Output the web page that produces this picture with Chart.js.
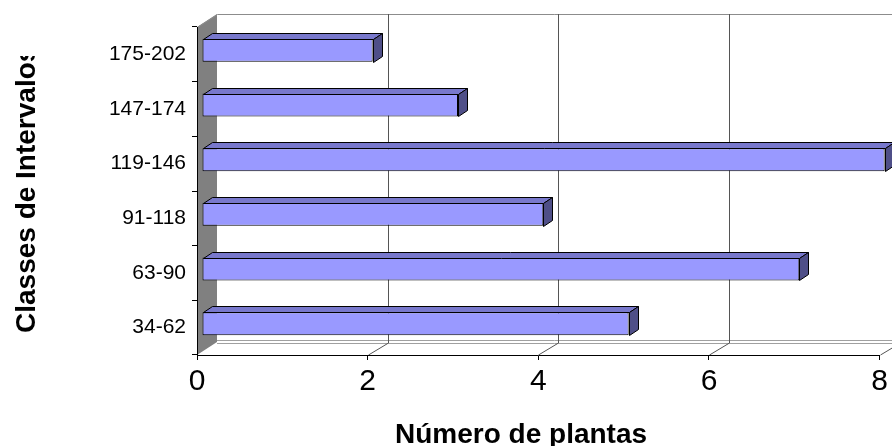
<!DOCTYPE html>
<html>
<head>
<meta charset="utf-8">
<script src="https://cdn.jsdelivr.net/npm/chart.js@4"></script>
<style>
  html, body { margin: 0; padding: 0; background: #ffffff; }
  #wrap { width: 892px; height: 446px; }
</style>
</head>
<body>
<div id="wrap"><canvas id="c" width="892" height="446"></canvas></div>
<script>
// Interval classes (top to bottom) and number of plants in each
const classes = ['175-202', '147-174', '119-146', '91-118', '63-90', '34-62'];
const plants = [2, 3, 8, 4, 7, 5];
const xTicks = [0, 2, 4, 6, 8];
const xTitle = 'Número de plantas';
const yTitle = 'Classes de Intervalos';

const FONT = 'Arial, "Liberation Sans", sans-serif';

// 3D geometry: depth of the walls and of the bar boxes
const WALL = { dx: 20, dy: -13 };
const BAR_SHIFT = { dx: 5, dy: -4 };
const BAR_DEPTH = { dx: 9, dy: -6 };

const walls = {
  id: 'walls',
  beforeDraw(chart) {
    const { ctx, chartArea: a, scales } = chart;
    const x = scales.x;
    ctx.save();
    // back wall
    ctx.fillStyle = '#ffffff';
    ctx.fillRect(a.left + WALL.dx, a.top + WALL.dy, chart.width - a.left - WALL.dx, a.bottom - a.top);
    // side wall
    ctx.fillStyle = '#808080';
    ctx.beginPath();
    ctx.moveTo(a.left, a.top);
    ctx.lineTo(a.left + WALL.dx, a.top + WALL.dy);
    ctx.lineTo(a.left + WALL.dx, a.bottom + WALL.dy);
    ctx.lineTo(a.left, a.bottom);
    ctx.closePath();
    ctx.fill();
    // wall outline
    ctx.strokeStyle = '#8c8c8c';
    ctx.lineWidth = 1;
    ctx.beginPath();
    ctx.moveTo(a.left + 0.5, a.top + 0.5);
    ctx.lineTo(a.left + WALL.dx + 0.5, a.top + WALL.dy + 0.5);
    ctx.lineTo(chart.width, a.top + WALL.dy + 0.5);
    ctx.stroke();
    // floor back edge
    ctx.strokeStyle = '#a0a0a0';
    ctx.beginPath();
    ctx.moveTo(a.left + WALL.dx, a.bottom + WALL.dy - 1.5);
    ctx.lineTo(chart.width, a.bottom + WALL.dy - 1.5);
    ctx.moveTo(a.left + WALL.dx, a.bottom + WALL.dy + 1.5);
    ctx.lineTo(chart.width, a.bottom + WALL.dy + 1.5);
    ctx.stroke();
    // gridlines on back wall and floor
    ctx.strokeStyle = '#555555';
    xTicks.forEach(v => {
      if (v === 0) return;
      const px = Math.round(x.getPixelForValue(v)) + 0.5;
      ctx.beginPath();
      ctx.moveTo(px + WALL.dx, a.top + WALL.dy);
      ctx.lineTo(px + WALL.dx, a.bottom + WALL.dy + 1);
      ctx.lineTo(px, a.bottom);
      ctx.stroke();
    });
    ctx.restore();
  }
};

const boxes = {
  id: 'boxes',
  beforeDatasetsDraw(chart) {
    chart.ctx.save();
    chart.ctx.translate(BAR_SHIFT.dx, BAR_SHIFT.dy);
  },
  afterDatasetsDraw(chart) {
    const ctx = chart.ctx;
    chart.getDatasetMeta(0).data.forEach(bar => {
      const { x, y, base, height } = bar.getProps(['x', 'y', 'base', 'height'], true);
      const l = Math.round(base) + 0.5, r = Math.round(x) + 0.5;
      const t = Math.round(y - height / 2) + 0.5, b = Math.round(y + height / 2) + 0.5;
      ctx.lineWidth = 1;
      ctx.strokeStyle = '#000000';
      ctx.lineJoin = 'round';
      // top face
      ctx.fillStyle = '#7878cc';
      ctx.beginPath();
      ctx.moveTo(l, t);
      ctx.lineTo(l + BAR_DEPTH.dx, t + BAR_DEPTH.dy);
      ctx.lineTo(r + BAR_DEPTH.dx, t + BAR_DEPTH.dy);
      ctx.lineTo(r, t);
      ctx.closePath();
      ctx.fill();
      ctx.stroke();
      // end face
      ctx.fillStyle = '#4f4f88';
      ctx.beginPath();
      ctx.moveTo(r, t);
      ctx.lineTo(r + BAR_DEPTH.dx, t + BAR_DEPTH.dy);
      ctx.lineTo(r + BAR_DEPTH.dx, b + BAR_DEPTH.dy);
      ctx.lineTo(r, b);
      ctx.closePath();
      ctx.fill();
      ctx.stroke();
    });
    ctx.restore();
  }
};

const titles = {
  id: 'titles',
  afterDraw(chart) {
    const { ctx } = chart;
    ctx.save();
    ctx.fillStyle = '#000000';
    ctx.font = 'bold 28px ' + FONT;
    ctx.textAlign = 'left';
    ctx.textBaseline = 'alphabetic';
    ctx.fillText(xTitle, 395, 443);
    // vertical title, cut off by its box at the top
    ctx.beginPath();
    ctx.rect(0, 56, 60, 390);
    ctx.clip();
    ctx.translate(35, 333);
    ctx.rotate(-Math.PI / 2);
    ctx.fillText(yTitle, 0, 0);
    ctx.restore();
  }
};

new Chart(document.getElementById('c'), {
  type: 'bar',
  data: {
    labels: classes,
    datasets: [{
      data: plants,
      backgroundColor: '#9999ff',
      borderColor: '#000000',
      borderWidth: 1,
      borderSkipped: false,
      categoryPercentage: 1,
      barPercentage: 0.42,
      clip: false
    }]
  },
  options: {
    indexAxis: 'y',
    responsive: false,
    animation: false,
    events: [],
    layout: { padding: { top: 27, right: 10, left: 0, bottom: 0 } },
    plugins: { legend: { display: false }, tooltip: { enabled: false } },
    scales: {
      x: {
        min: 0, max: 8,
        afterBuildTicks(s) { s.ticks = xTicks.map(v => ({ value: v })); },
        afterFit(s) { s.height = 91; },
        grid: { drawOnChartArea: false, drawTicks: true, tickLength: 5, color: '#000000' },
        border: { color: '#000000' },
        ticks: { color: '#000000', font: { family: FONT, size: 30 }, padding: 4, maxRotation: 0 }
      },
      y: {
        afterFit(s) { s.width = 197; },
        grid: { drawOnChartArea: false, drawTicks: true, tickLength: 5, color: '#000000', offset: true },
        border: { color: '#000000' },
        ticks: { color: '#000000', font: { family: FONT, size: 21 }, padding: 6 }
      }
    }
  },
  plugins: [walls, boxes, titles]
});
</script>
</body>
</html>
